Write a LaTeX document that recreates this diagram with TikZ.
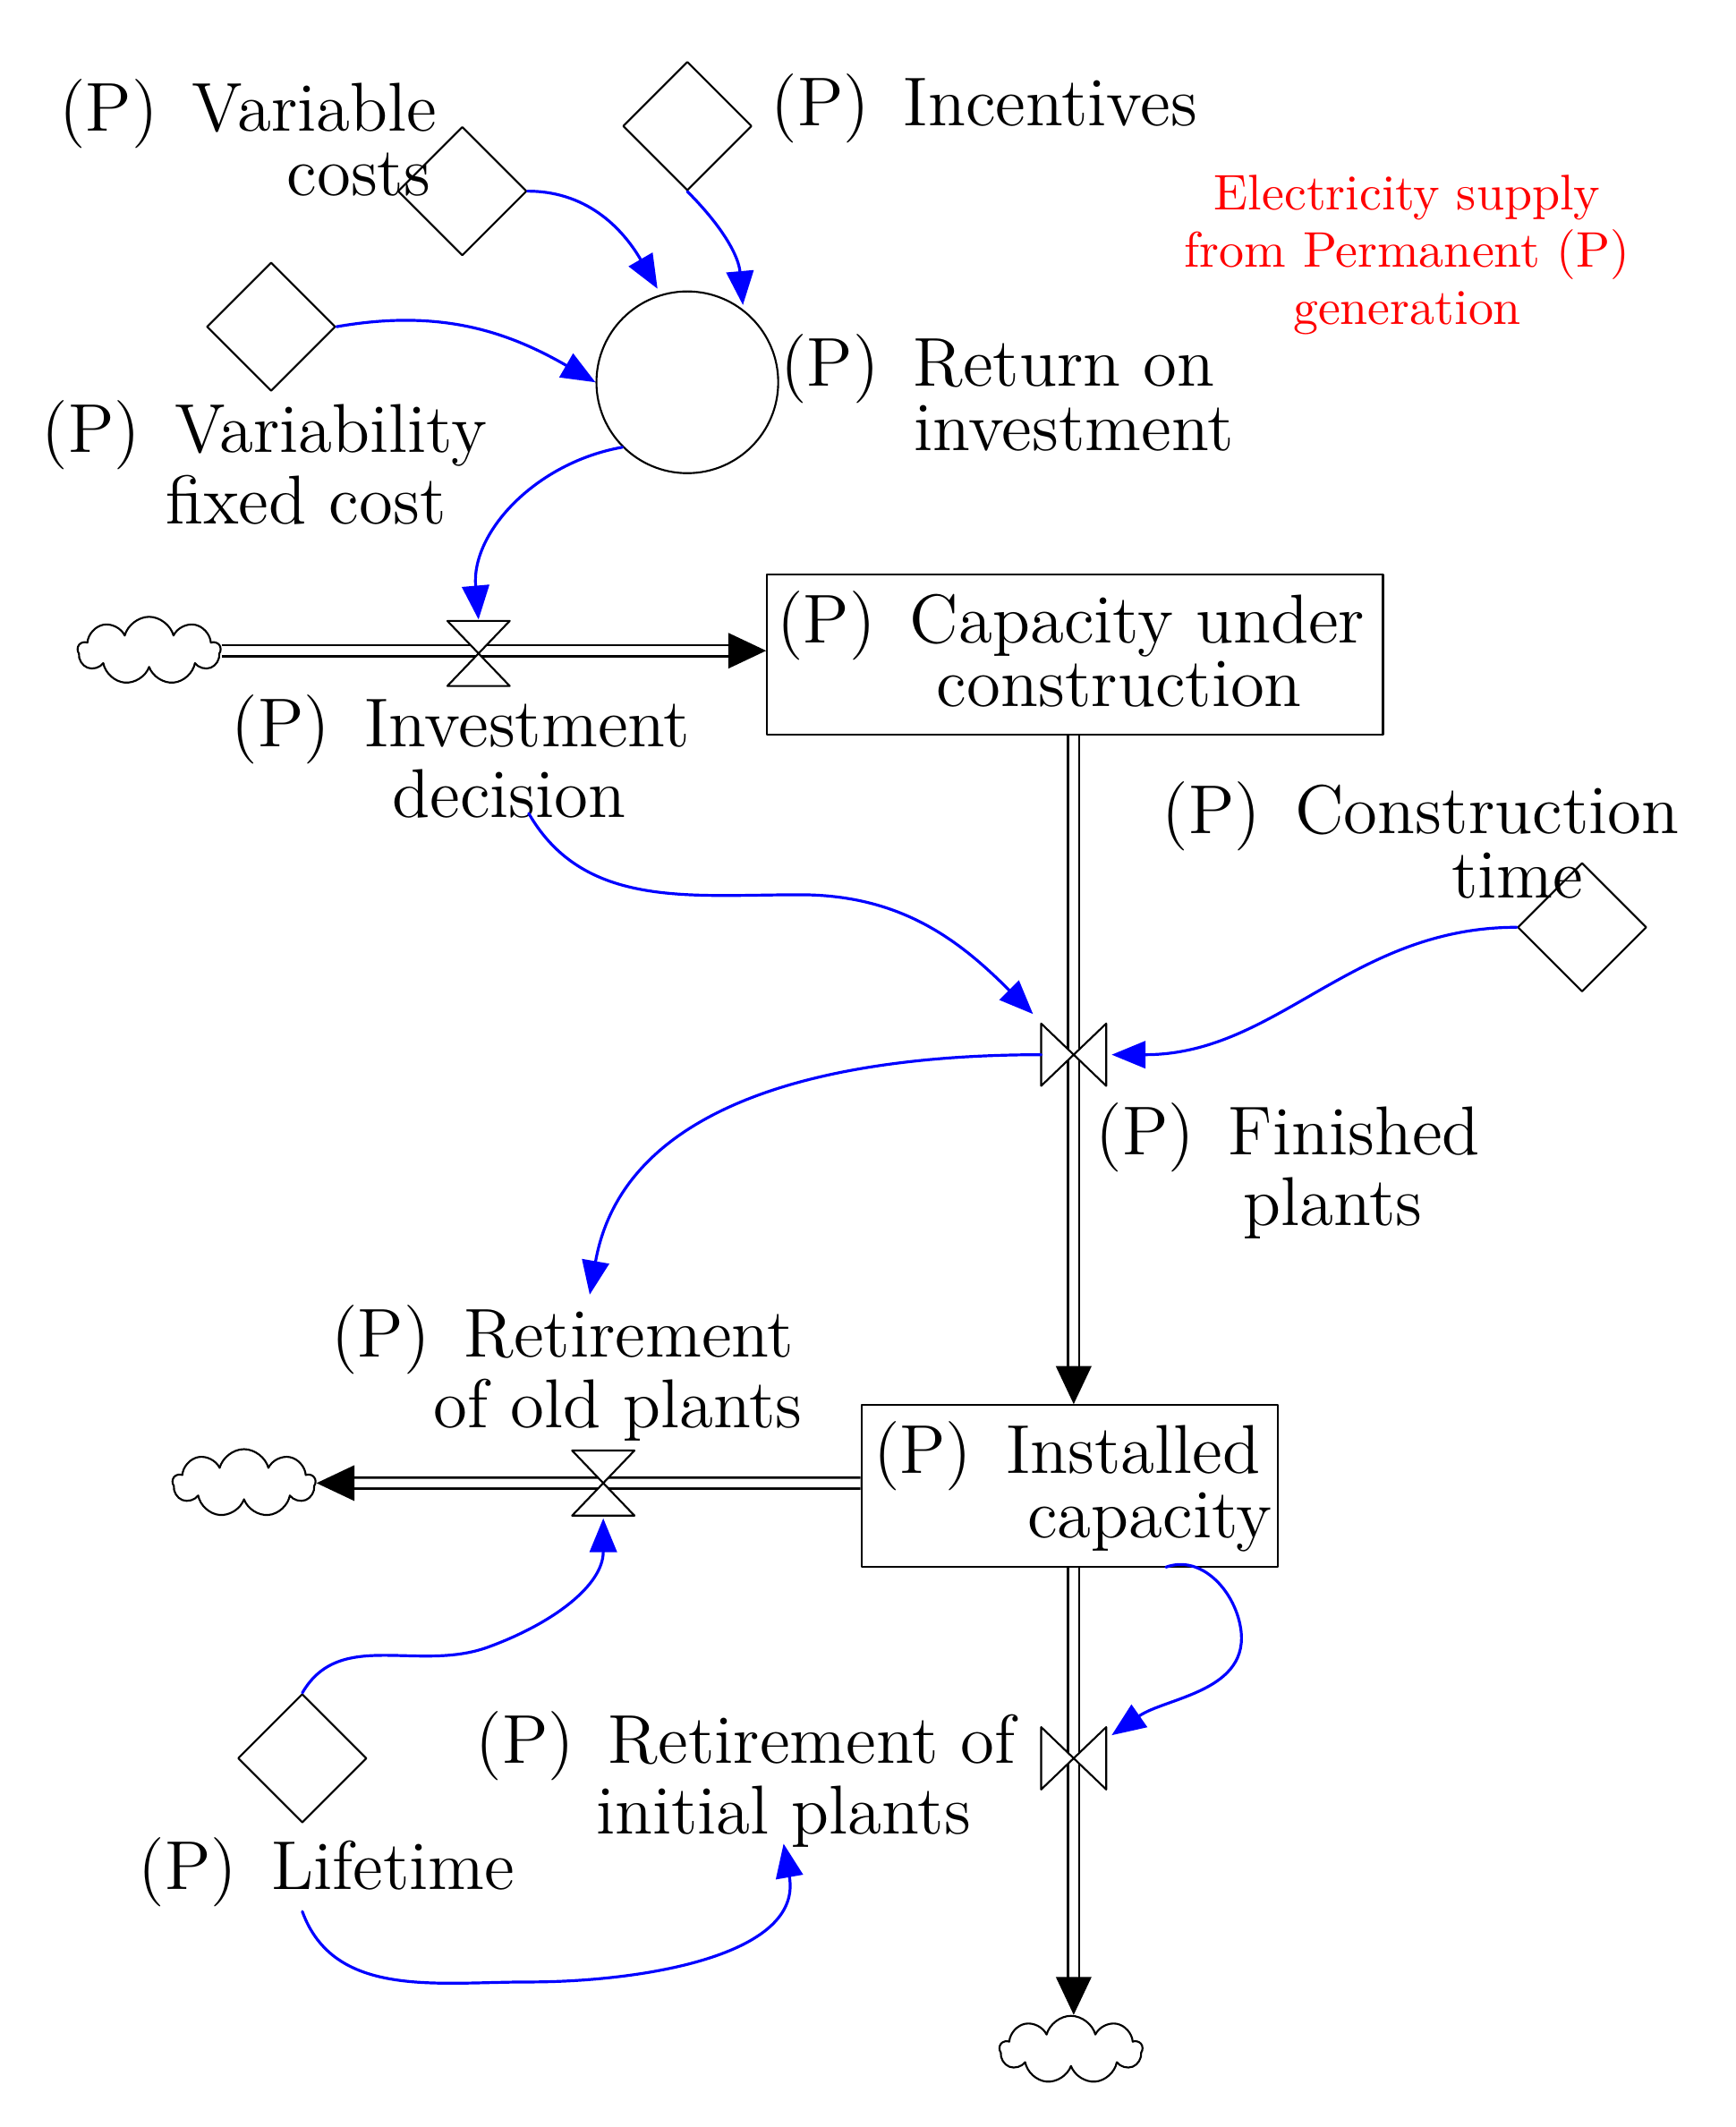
\documentclass[tikz,border=0pt]{standalone}
\usepackage{amsmath}
\usetikzlibrary{arrows.meta,shapes.geometric,shapes.symbols,calc}

\begin{document}
\begin{tikzpicture}[line cap=round,line join=round,x=0.01cm,y=-0.01cm,
    lbl/.style={font=\fontsize{14.5}{13.5}\selectfont,align=center,inner sep=0pt},
    aux/.style={draw,diamond,minimum size=0.95cm,inner sep=0pt},
    stock/.style={draw,rectangle,inner sep=0pt},
    pipe/.style={double,double distance=1.8pt,line width=0.5pt,line cap=butt},
    flowtip/.style={-{Triangle[length=0.28cm,width=0.26cm]}},
    link/.style={blue,semithick,-{Triangle[length=0.25cm,width=0.2cm]}},
    sink/.style={draw,cloud,cloud puffs=9,aspect=2,minimum width=1.05cm,minimum height=0.5cm,inner sep=0pt}]
      \useasboundingbox (0,0) rectangle (1280,1569);

      % auxiliaries
      \node[aux] (varcost) at (341,141) {};
      \node[aux] (incent) at (507,93) {};
      \node[aux] (varfix) at (200,241) {};
      \node[draw,circle,minimum size=1.34cm,inner sep=0pt] (roi) at (507,282) {};
      \node[aux] (ctime) at (1167,684) {};
      \node[aux] (life) at (223,1297) {};

      % stocks
      \node[stock,minimum width=4.54cm,minimum height=1.18cm] (cuc) at (793,483) {};
      \node[stock,minimum width=3.07cm,minimum height=1.19cm] (inst) at (789,1096) {};

      % clouds
      \node[sink] (src) at (110,480) {};
      \node[sink] (out1) at (180,1094) {};
      \node[sink] (out2) at (790,1512) {};

      % valves
      \coordinate (vinv) at (353,482);
      \coordinate (vfin) at (792,778);
      \coordinate (vret) at (445,1094);
      \coordinate (vini) at (792,1297);

      % pipes
      \draw[pipe,flowtip] (src.east) -- (cuc.west |- src.east);
      \draw[pipe,flowtip] (cuc.south -| vfin) -- (inst.north -| vfin);
      \draw[pipe,flowtip] (inst.west |- vret) -- (out1.east);
      \draw[pipe,flowtip] (inst.south -| vini) -- (out2.north -| vini);

      \foreach \v in {vinv,vret}
        \draw[fill=white] ($(\v)+(-23,-24)$) -- ($(\v)+(23,-24)$) -- ($(\v)+(-23,24)$) -- ($(\v)+(23,24)$) -- cycle;
      \foreach \v in {vfin,vini}
        \draw[fill=white] ($(\v)+(-24,-23)$) -- ($(\v)+(-24,23)$) -- ($(\v)+(24,-23)$) -- ($(\v)+(24,23)$) -- cycle;

      % labels
      \node[lbl,anchor=north] (lvarcost) at (183,58) {(P)\, Variable\\\hspace*{3.2em}costs};
      \node[lbl,anchor=west] (lincent) at (568,80) {(P)\, Incentives};
      \node[lbl,anchor=north] (lvarfix) at (195,295) {(P)\, Variability\\\hspace*{1.2em}fixed cost};
      \node[lbl,anchor=north] (lroi) at (736,246) {(P)\, Return on\\\hspace*{2.2em}investment};
      \node[lbl,anchor=north] (lcuc) at (790,435) {(P)\, Capacity under\\\hspace*{1.4em}construction};
      \node[lbl,anchor=north] (linv) at (340,512) {(P)\, Investment\\\hspace*{1.4em}decision};
      \node[lbl,anchor=north] (lctime) at (1048,576) {(P)\, Construction\\\hspace*{2.8em}time};
      \node[lbl,anchor=north] (lfin) at (950,813) {(P)\, Finished\\\hspace*{1.3em}plants};
      \node[lbl,anchor=north] (lret) at (415,962) {(P)\, Retirement\\\hspace*{1.6em}of old plants};
      \node[lbl,anchor=north] (linst) at (787,1048) {(P)\, Installed\\\hspace*{2.4em}capacity};
      \node[lbl,anchor=north] (lini) at (550,1262) {(P)\, Retirement of\\\hspace*{1.1em}initial plants};
      \node[lbl,anchor=north] (llife) at (241,1355) {(P)\, Lifetime};
      \node[red,font=\fontsize{10.5}{12}\selectfont,align=center] (title) at (1038,188)
        {Electricity supply\\from Permanent (P)\\generation};

      % links
      \draw[link] (varcost.east) to[out=0,in=120] (485,213);
      \draw[link] (incent.south) to[out=-45,in=95] (548,225);
      \draw[link] (varfix.east) to[out=10,in=150] (roi.west);
      \draw[link] (roi.225) to[out=190,in=95] (vinv |- 0,457);
      \draw[link] (390,600) to[out=-60,in=180] (590,660) to[out=0,in=135] (762,748);
      \draw[link] (ctime.west) to[out=180,in=0] (820,778);
      \draw[link] (768,778) to[out=180,in=80] (435,955);
      \draw[link] (860,1156) to[out=20,in=100] (915,1200) to[out=-80,in=35] (820,1280);
      \draw[link] (life.north) to[out=60,in=200] (360,1215) to[out=20,in=-90] (vret |- 0,1120);
      \draw[link] (223,1410) to[out=-70,in=180] (390,1462) to[out=0,in=-80] (578,1360);
\end{tikzpicture}
\end{document}
